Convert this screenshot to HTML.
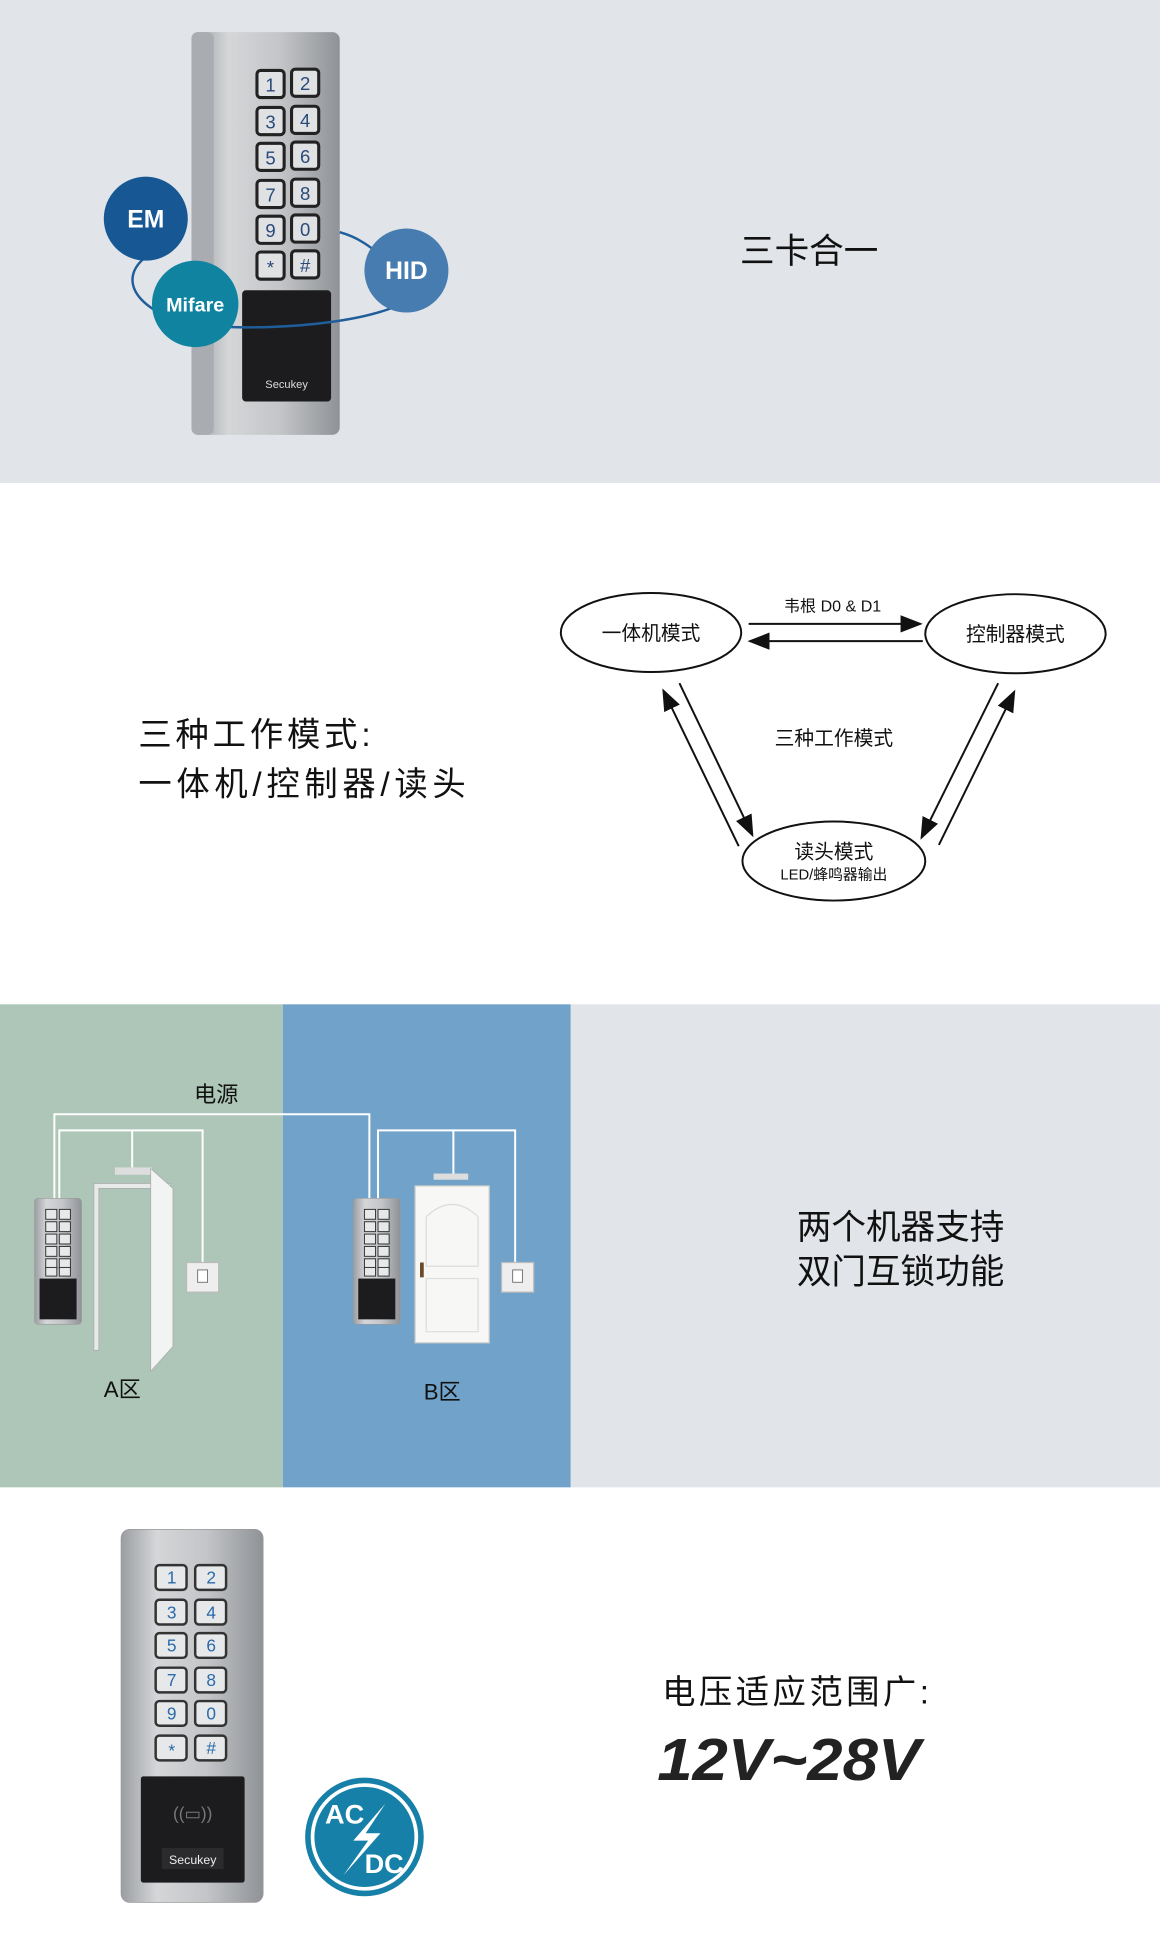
<!DOCTYPE html>
<html><head><meta charset="utf-8"><style>
html,body{margin:0;padding:0;background:#fff}
svg{display:block}
text{font-family:"Liberation Sans","Noto Sans CJK SC",sans-serif}
</style></head><body>
<svg width="1160" height="1937" viewBox="0 0 939 1568" xmlns="http://www.w3.org/2000/svg">
<defs>
<linearGradient id="sil" x1="0" x2="1" y1="0" y2="0">
<stop offset="0" stop-color="#9a9da1"/><stop offset="0.25" stop-color="#d4d6d8"/><stop offset="0.6" stop-color="#c3c5c8"/><stop offset="1" stop-color="#8f9296"/></linearGradient>
<marker id="ah2" markerWidth="18" markerHeight="14" refX="16" refY="7" orient="auto" markerUnits="userSpaceOnUse"><path d="M0,0 L18,7 L0,14 z" fill="#111"/></marker>
</defs>
<!-- section 1 -->
<rect x="0" y="0" width="939" height="391" fill="#e1e4e8"/>
<rect x="155" y="26" width="120" height="326" rx="6" fill="url(#sil)"/>
<rect x="155" y="26" width="18" height="326" rx="5" fill="#a9acb0"/>
<rect x="196" y="235" width="72" height="90" rx="3" fill="#1c1c1e"/>
<text x="232" y="314" font-size="9" fill="#ddd" text-anchor="middle">Secukey</text>
<g fill="#dfe1e3" stroke="#222" stroke-width="2.5">
<rect x="208" y="57" width="22" height="22" rx="3"/><rect x="236" y="56" width="22" height="22" rx="3"/>
<rect x="208" y="87" width="22" height="22" rx="3"/><rect x="236" y="86" width="22" height="22" rx="3"/>
<rect x="208" y="116" width="22" height="22" rx="3"/><rect x="236" y="115" width="22" height="22" rx="3"/>
<rect x="208" y="146" width="22" height="22" rx="3"/><rect x="236" y="145" width="22" height="22" rx="3"/>
<rect x="208" y="175" width="22" height="22" rx="3"/><rect x="236" y="174" width="22" height="22" rx="3"/>
<rect x="208" y="204" width="22" height="22" rx="3"/><rect x="236" y="203" width="22" height="22" rx="3"/>
</g>
<g font-size="15" fill="#2a4a7a" text-anchor="middle">
<text x="219" y="74">1</text><text x="247" y="73">2</text>
<text x="219" y="104">3</text><text x="247" y="103">4</text>
<text x="219" y="133">5</text><text x="247" y="132">6</text>
<text x="219" y="163">7</text><text x="247" y="162">8</text>
<text x="219" y="192">9</text><text x="247" y="191">0</text>
<text x="219" y="222">*</text><text x="247" y="220">#</text>
</g>
<path d="M118,208 C90,230 120,260 170,264 C230,268 320,260 340,235" fill="none" stroke="#1f5e9a" stroke-width="2"/>
<path d="M275,188 C290,192 300,200 310,208" fill="none" stroke="#1f5e9a" stroke-width="2"/>
<circle cx="118" cy="177" r="34" fill="#175894"/>
<circle cx="158" cy="246" r="35" fill="#0f83a0"/>
<circle cx="329" cy="219" r="34" fill="#467cb0"/>
<text x="118" y="184" font-size="20" font-weight="bold" fill="#fff" text-anchor="middle">EM</text>
<text x="158" y="252" font-size="16" font-weight="bold" fill="#fff" text-anchor="middle">Mifare</text>
<text x="329" y="226" font-size="20" font-weight="bold" fill="#fff" text-anchor="middle">HID</text>
<text x="655" y="213" font-size="28" fill="#111" text-anchor="middle">三卡合一</text>
<!-- section 2 -->
<text x="112" y="604" font-size="27" fill="#111" textLength="188" lengthAdjust="spacing">三种工作模式:</text>
<text x="112" y="644" font-size="27" fill="#111" textLength="265" lengthAdjust="spacing">一体机/控制器/读头</text>
<g fill="none" stroke="#111" stroke-width="1.6">
<ellipse cx="527" cy="512" rx="73" ry="32"/>
<ellipse cx="822" cy="513" rx="73" ry="32"/>
<ellipse cx="675" cy="697" rx="74" ry="32"/>
<line x1="606" y1="505" x2="745" y2="505" marker-end="url(#ah2)"/>
<line x1="747" y1="519" x2="607" y2="519" marker-end="url(#ah2)"/>
<line x1="550" y1="553" x2="609" y2="676" marker-end="url(#ah2)"/>
<line x1="598" y1="685" x2="537" y2="559" marker-end="url(#ah2)"/>
<line x1="808" y1="553" x2="746" y2="678" marker-end="url(#ah2)"/>
<line x1="760" y1="684" x2="821" y2="560" marker-end="url(#ah2)"/>
</g>
<g font-size="16" fill="#111" text-anchor="middle">
<text x="527" y="518">一体机模式</text>
<text x="822" y="519">控制器模式</text>
<text x="675" y="695">读头模式</text>
<text x="675" y="603">三种工作模式</text>
<text x="674" y="495" font-size="13" font-family="Liberation Mono, Noto Sans CJK SC, monospace">韦根 D0 &amp; D1</text>
<text x="675" y="712" font-size="12">LED/蜂鸣器输出</text>
</g>
<!-- section 3 -->
<rect x="0" y="813" width="229" height="391" fill="#adc6b8"/>
<rect x="229" y="813" width="233" height="391" fill="#71a3ca"/>
<rect x="462" y="813" width="477" height="391" fill="#e1e4e8"/>
<text x="175" y="892" font-size="18" fill="#111" text-anchor="middle">电源</text>
<g fill="none" stroke="#fff" stroke-width="1.6">
<path d="M44,972 V902 H299 V972"/>
<path d="M48,972 V915 H164 V1022 M107,915 V945"/>
<path d="M306,972 V915 H417 V1022 M367,915 V950"/>
</g>
<rect x="28" y="970" width="38" height="102" rx="3" fill="url(#sil)" stroke="#999" stroke-width="0.5"/>
<rect x="32" y="1035" width="30" height="33" fill="#1c1c1e"/>
<g fill="#e6e8ea" stroke="#333" stroke-width="0.8">
<rect x="37" y="979" width="9" height="8"/><rect x="48" y="979" width="9" height="8"/>
<rect x="37" y="989" width="9" height="8"/><rect x="48" y="989" width="9" height="8"/>
<rect x="37" y="999" width="9" height="8"/><rect x="48" y="999" width="9" height="8"/>
<rect x="37" y="1009" width="9" height="8"/><rect x="48" y="1009" width="9" height="8"/>
<rect x="37" y="1019" width="9" height="8"/><rect x="48" y="1019" width="9" height="8"/>
<rect x="37" y="1026" width="9" height="7"/><rect x="48" y="1026" width="9" height="7"/>
</g>
<rect x="93" y="945" width="30" height="6" fill="#ddd"/>
<path d="M76,1093 V958 H138 V1080 H134 V962 H80 V1093 z" fill="#e8eaea" stroke="#aaa" stroke-width="0.6"/>
<path d="M122,946 L140,962 V1090 L122,1110 z" fill="#f2f3f3" stroke="#aaa" stroke-width="0.6"/>
<rect x="151" y="1022" width="26" height="24" fill="#eee" stroke="#bbb"/>
<rect x="160" y="1028" width="8" height="10" fill="#fff" stroke="#666" stroke-width="0.7"/>
<text x="99" y="1131" font-size="18" fill="#111" text-anchor="middle">A区</text>
<rect x="286" y="970" width="38" height="102" rx="3" fill="url(#sil)" stroke="#999" stroke-width="0.5"/>
<rect x="290" y="1035" width="30" height="33" fill="#1c1c1e"/>
<g fill="#e6e8ea" stroke="#333" stroke-width="0.8">
<rect x="295" y="979" width="9" height="8"/><rect x="306" y="979" width="9" height="8"/>
<rect x="295" y="989" width="9" height="8"/><rect x="306" y="989" width="9" height="8"/>
<rect x="295" y="999" width="9" height="8"/><rect x="306" y="999" width="9" height="8"/>
<rect x="295" y="1009" width="9" height="8"/><rect x="306" y="1009" width="9" height="8"/>
<rect x="295" y="1019" width="9" height="8"/><rect x="306" y="1019" width="9" height="8"/>
<rect x="295" y="1026" width="9" height="7"/><rect x="306" y="1026" width="9" height="7"/>
</g>
<rect x="351" y="950" width="28" height="5" fill="#ddd"/>
<rect x="336" y="960" width="60" height="127" fill="#f7f7f5" stroke="#ccc"/>
<path d="M345,1025 V985 Q366,965 387,985 V1025 z M345,1035 H387 V1078 H345 z" fill="none" stroke="#ddd"/>
<rect x="340" y="1022" width="3" height="12" fill="#6b4a2a"/>
<rect x="406" y="1022" width="26" height="24" fill="#eee" stroke="#bbb"/>
<rect x="415" y="1028" width="8" height="10" fill="#fff" stroke="#666" stroke-width="0.7"/>
<text x="358" y="1133" font-size="18" fill="#111" text-anchor="middle">B区</text>
<text x="729" y="1003" font-size="28" fill="#111" text-anchor="middle">两个机器支持</text>
<text x="729" y="1039" font-size="28" fill="#111" text-anchor="middle">双门互锁功能</text>
<!-- section 4 -->
<rect x="98" y="1238" width="115" height="302" rx="7" fill="url(#sil)" stroke="#999" stroke-width="0.6"/>
<rect x="114" y="1438" width="84" height="86" rx="2" fill="#1c1c1e"/>
<text x="156" y="1473" font-size="14" fill="#777" text-anchor="middle">((▭))</text>
<rect x="131" y="1496" width="50" height="17" fill="#2b2b2d"/>
<text x="156" y="1509" font-size="10" fill="#eee" text-anchor="middle">Secukey</text>
<g fill="#e6e8ea" stroke="#333" stroke-width="2">
<rect x="126" y="1267" width="25" height="20" rx="3"/><rect x="158" y="1267" width="25" height="20" rx="3"/>
<rect x="126" y="1295" width="25" height="20" rx="3"/><rect x="158" y="1295" width="25" height="20" rx="3"/>
<rect x="126" y="1322" width="25" height="20" rx="3"/><rect x="158" y="1322" width="25" height="20" rx="3"/>
<rect x="126" y="1350" width="25" height="20" rx="3"/><rect x="158" y="1350" width="25" height="20" rx="3"/>
<rect x="126" y="1377" width="25" height="20" rx="3"/><rect x="158" y="1377" width="25" height="20" rx="3"/>
<rect x="126" y="1405" width="25" height="20" rx="3"/><rect x="158" y="1405" width="25" height="20" rx="3"/>
</g>
<g font-size="14" fill="#2a6aaa" text-anchor="middle">
<text x="139" y="1282">1</text><text x="171" y="1282">2</text>
<text x="139" y="1310">3</text><text x="171" y="1310">4</text>
<text x="139" y="1337">5</text><text x="171" y="1337">6</text>
<text x="139" y="1365">7</text><text x="171" y="1365">8</text>
<text x="139" y="1392">9</text><text x="171" y="1392">0</text>
<text x="139" y="1422">*</text><text x="171" y="1420">#</text>
</g>
<circle cx="295" cy="1487" r="48" fill="#1780a8"/>
<circle cx="295" cy="1487" r="42" fill="none" stroke="#fff" stroke-width="3"/>
<text x="279" y="1476" font-size="22" font-weight="bold" fill="#fff" text-anchor="middle">AC</text>
<text x="311" y="1516" font-size="22" font-weight="bold" fill="#fff" text-anchor="middle">DC</text>
<path d="M312,1460 L286,1490 L298,1490 L278,1518 L308,1484 L296,1484 z" fill="#fff"/>
<text x="536" y="1379" font-size="27" fill="#111" textLength="216" lengthAdjust="spacing">电压适应范围广:</text>
<text x="532" y="1441" font-size="48" font-weight="bold" font-style="italic" fill="#222" textLength="213" lengthAdjust="spacingAndGlyphs">12V~28V</text>
</svg>
</body></html>
